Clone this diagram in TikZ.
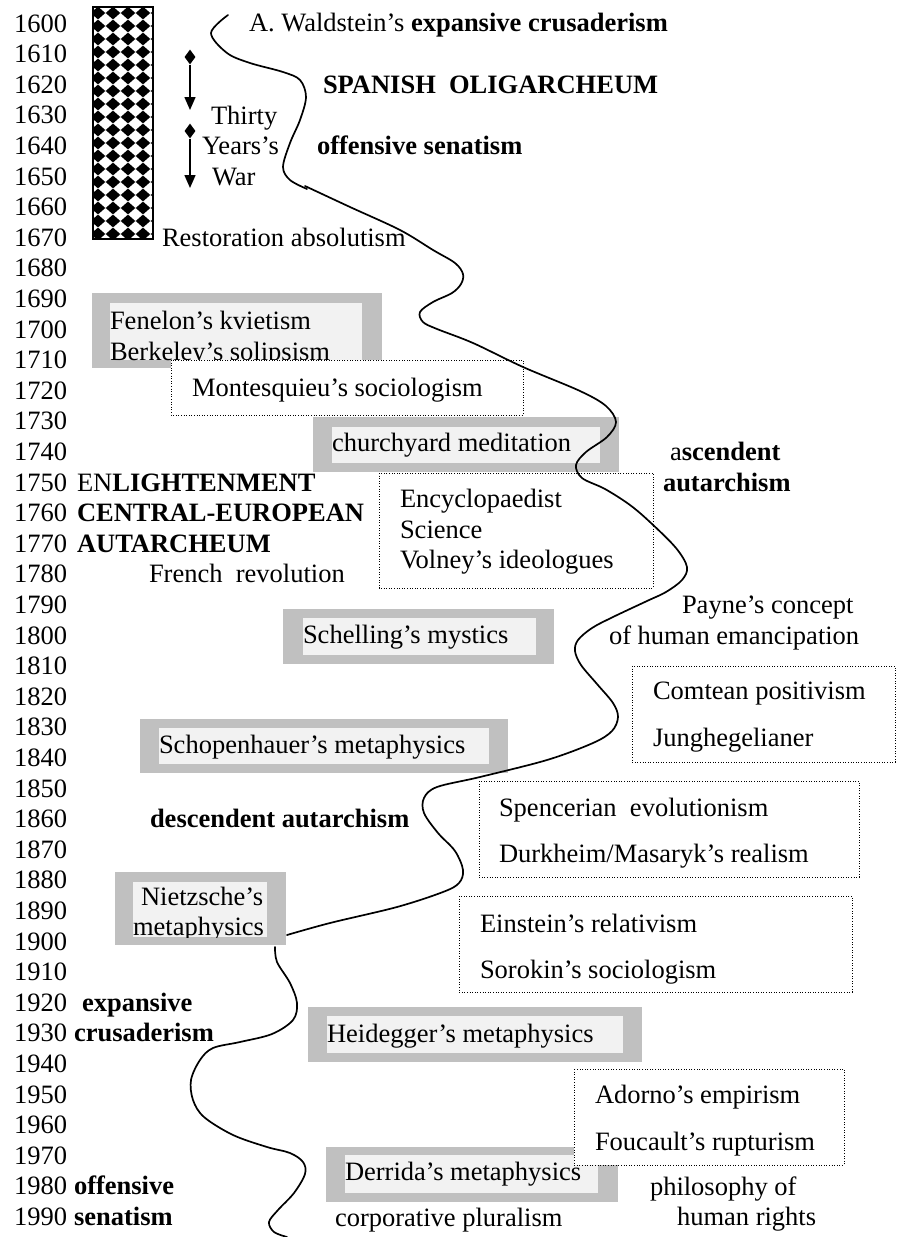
\documentclass[tikz,border=0pt]{standalone}
\usepackage{fontspec}
\setmainfont{Liberation Serif}
\usetikzlibrary{arrows.meta,shapes.geometric}
\definecolor{boxgray}{HTML}{C0C0C0}
\definecolor{boxlight}{HTML}{F2F2F2}
\begin{document}
\begin{tikzpicture}[x=1pt,y=-1pt,
  txt/.style={anchor=base west, inner sep=0pt, outer sep=0pt, font=\fontsize{26.5}{30}\selectfont},
  outerbox/.style={fill=boxgray},
  innerbox/.style={fill=boxlight},
  dotbox/.style={draw=black, fill=white, line width=1pt, dash pattern=on 1pt off 1.6pt},
  wave/.style={line width=1.7pt, line cap=round, line join=round},
  wardiamond/.style={diamond, fill=black, inner sep=0pt, minimum width=11pt, minimum height=15pt},
  wararrow/.style={line width=1.5pt, -{Triangle[width=11pt,length=13pt]}}]
\useasboundingbox (0,0) rectangle (897,1237);
\fill[white] (0,0) rectangle (897,1237);

% year column
\foreach \n in {0,...,39}{
  \pgfmathtruncatemacro\yr{1600+10*\n}
  \node[txt] (y\yr) at (14,{32+30.6*\n}) {\yr};
}

% checkered bar
\begin{scope}
  \clip (93,7) rectangle (153,239);
  \fill[white] (93,7) rectangle (153,239);
  \foreach \i in {-1,...,4}{
    \foreach \j in {0,...,18}{
      \fill[black] ({98+15*\i},{13+13*\j}) ++(-7.3,0) -- ++(7.3,-6.4) -- ++(7.3,6.4) -- ++(-7.3,6.4) -- cycle;
    }
  }
\end{scope}
\draw[line width=1.6pt] (93,7) rectangle (153,239);

% Thirty Years's War arrows
\node[wardiamond] (wd1) at (190,57) {};
\coordinate (wa1) at (190,110);
\draw[wararrow] (wd1.south) -- (wa1);
\node[wardiamond] (wd2) at (190,131) {};
\coordinate (wa2) at (190,188);
\draw[wararrow] (wd2.south) -- (wa2);
\node[txt] (thirty) at (211,124) {Thirty};
\node[txt] (years) at (202,154) {Years’s};
\node[txt] (war) at (212,185) {War};

% top texts
\node[txt] (wald) at (249,31) {A. Waldstein’s \textbf{expansive crusaderism}};
\node[txt] (spanish) at (323,93) {\textbf{SPANISH\ \ OLIGARCHEUM}};
\node[txt] (offsen) at (317,154) {\textbf{offensive senatism}};
\node[txt] (resto) at (162,246) {Restoration absolutism};

% Fenelon box
\fill[outerbox] (92,293) rectangle (382,368);
\fill[innerbox] (110,303) rectangle (362,360);
\node[txt] (fen) at (110,329) {Fenelon’s kvietism};
\node[txt] (berk) at (110,360) {Berkeley’s solipsism};

% Montesquieu box
\draw[dotbox] (171,360) rectangle (523,415);
\node[txt] (mont) at (192,396) {Montesquieu’s sociologism};

% churchyard box
\fill[outerbox] (313,417) rectangle (619,472);
\fill[innerbox] (332,427) rectangle (600,463);
\node[txt] (church) at (332,451) {churchyard meditation};

% Encyclopaedist box
\draw[dotbox] (379,473) rectangle (653,588);
\node[txt] (ency) at (400,507) {Encyclopaedist};
\node[txt] (sci) at (400,538) {Science};
\node[txt] (volney) at (400,568) {Volney’s ideologues};

% ascendent autarchism
\node[txt] (asc) at (670,460) {a\textbf{scendent}};
\node[txt] (aut) at (663,491) {\textbf{autarchism}};

% row texts
\node[txt] (enl) at (77,491) {EN\textbf{LIGHTENMENT}};
\node[txt] (cent) at (77,521.6) {\textbf{CENTRAL-EUROPEAN}};
\node[txt] (autm) at (77,552.2) {\textbf{AUTARCHEUM}};
\node[txt] (french) at (149,582.8) {French\ \ revolution};

% Payne
\node[txt] (payne) at (682,613.4) {Payne’s concept};
\node[txt] (eman) at (609,644) {of human emancipation};

% Schelling box
\fill[outerbox] (283,609) rectangle (554,664);
\fill[innerbox] (303,618) rectangle (536,655);
\node[txt] (schell) at (303,643) {Schelling’s mystics};

% Comtean box
\draw[dotbox] (632,666) rectangle (895,762);
\node[txt] (comte) at (653,699) {Comtean positivism};
\node[txt] (jung) at (653,746) {Junghegelianer};

% Schopenhauer box
\fill[outerbox] (140,719) rectangle (508,773);
\fill[innerbox] (159,728) rectangle (489,764);
\node[txt] (schop) at (159,753) {Schopenhauer’s metaphysics};

% Spencerian box
\draw[dotbox] (479,781) rectangle (859,877);
\node[txt] (spenc) at (499,816) {Spencerian\ \ evolutionism};
\node[txt] (durk) at (499,862) {Durkheim/Masaryk’s realism};

\node[txt] (desc) at (150,827.6) {\textbf{descendent autarchism}};

% Nietzsche box
\fill[outerbox] (115,872) rectangle (286,945);
\fill[innerbox] (133,882) rectangle (267,937);
\begin{scope}
  \clip (133,882) rectangle (267,937);
  \node[txt] (nietz) at (141,905) {Nietzsche’s};
  \node[txt] (nmeta) at (133,935) {metaphysics};
\end{scope}

% Einstein box
\draw[dotbox] (459,896) rectangle (852,992);
\node[txt] (ein) at (480,932) {Einstein’s relativism};
\node[txt] (soro) at (480,978) {Sorokin’s sociologism};

\node[txt] (expa) at (82,1011.2) {\textbf{expansive}};
\node[txt] (crus) at (74,1041.8) {\textbf{crusaderism}};

% Heidegger box
\fill[outerbox] (308,1007) rectangle (642,1062);
\fill[innerbox] (327,1016) rectangle (623,1053);
\node[txt] (heid) at (327,1042) {Heidegger’s metaphysics};

% Derrida box and Adorno box
\fill[outerbox] (326,1147) rectangle (618,1202);
\fill[innerbox] (345,1155) rectangle (598,1193);
\draw[dotbox] (574,1069) rectangle (844,1165);
\node[txt] (ador) at (595,1103) {Adorno’s empirism};
\node[txt] (fouc) at (595,1150) {Foucault’s rupturism};
\node[txt] (derr) at (345,1180) {Derrida’s metaphysics};

\node[txt] (offe) at (74,1194.8) {\textbf{offensive}};
\node[txt] (sena) at (74,1225.4) {\textbf{senatism}};
\node[txt] (phil) at (650,1195) {philosophy of};
\node[txt] (hum) at (677,1225) {human rights};
\node[txt] (corp) at (335,1226) {corporative pluralism};

% the wave
\draw[wave] plot[smooth, tension=0.55] coordinates {(228,15) (211,33) (227,53) (250,63) (283,72) (300,80) (306,97) (300,120) (290,143) (283,167) (290,180) (307,189)};
\draw[wave] plot[smooth, tension=0.55] coordinates {(305,186) (350,207) (400,230) (433,250) (455,263) (463,274) (461,284) (452,293) (433,302) (420,312) (423,322) (437,329) (473,343) (523,367) (580,391) (606,406) (616,422) (607,437) (586,452) (576,465) (582,478) (605,489) (630,505) (651,523) (676,548) (687,567) (682,580) (666,592) (647,601) (613,617) (592,628) (578,640) (575,651) (581,665) (597,684) (613,703) (618,717) (612,731) (593,743) (547,760) (480,777) (437,787) (424,798) (424,813) (438,833) (455,851) (463,870) (459,883) (443,892) (397,907) (330,923) (287,935)};
\draw[wave] plot[smooth, tension=0.55] coordinates {(275,947) (277,962) (290,983) (297,1003) (293,1020) (272,1034) (240,1042) (213,1048) (200,1060) (191,1080) (193,1100) (204,1117) (233,1135) (267,1147) (290,1153) (303,1162) (305,1174) (294,1193) (278,1210) (269,1222) (274,1232) (287,1237)};
\end{tikzpicture}
\end{document}
